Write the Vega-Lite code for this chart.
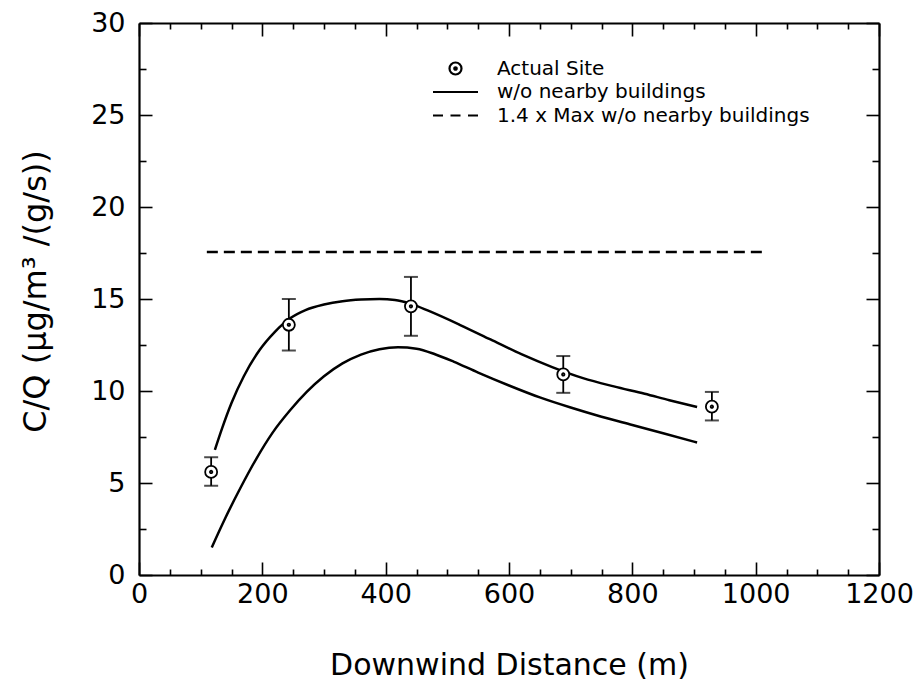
{
  "$schema": "https://vega.github.io/schema/vega-lite/v6.json",
  "width": 740,
  "height": 552,
  "autosize": {"type": "none"},
  "padding": {"left": 139, "top": 23, "right": 43, "bottom": 109},
  "background": "white",
  "config": {
    "view": {"stroke": null},
    "axis": {
      "grid": false,
      "domainColor": "black",
      "domainWidth": 2.2,
      "tickColor": "black",
      "tickWidth": 1.6,
      "labelFont": "DejaVu Sans",
      "labelFontSize": 27,
      "labelColor": "black",
      "labelFlush": false,
      "titleFont": "DejaVu Sans",
      "titleFontSize": 30,
      "titleFontWeight": "normal",
      "titleColor": "black"
    }
  },
  "datasets": {
    "curves": [
      {"curve": "lower", "x": 118, "y": 1.5},
      {"curve": "lower", "x": 140, "y": 3.1},
      {"curve": "lower", "x": 164, "y": 4.7},
      {"curve": "lower", "x": 190, "y": 6.3},
      {"curve": "lower", "x": 217, "y": 7.75},
      {"curve": "lower", "x": 245, "y": 8.95},
      {"curve": "lower", "x": 272, "y": 9.95},
      {"curve": "lower", "x": 300, "y": 10.8},
      {"curve": "lower", "x": 330, "y": 11.5},
      {"curve": "lower", "x": 360, "y": 11.98},
      {"curve": "lower", "x": 390, "y": 12.27},
      {"curve": "lower", "x": 420, "y": 12.38},
      {"curve": "lower", "x": 450, "y": 12.3},
      {"curve": "lower", "x": 480, "y": 12.0},
      {"curve": "lower", "x": 510, "y": 11.6},
      {"curve": "lower", "x": 550, "y": 11.0},
      {"curve": "lower", "x": 600, "y": 10.3},
      {"curve": "lower", "x": 650, "y": 9.65},
      {"curve": "lower", "x": 700, "y": 9.1},
      {"curve": "lower", "x": 750, "y": 8.6},
      {"curve": "lower", "x": 800, "y": 8.15},
      {"curve": "lower", "x": 850, "y": 7.7},
      {"curve": "lower", "x": 905, "y": 7.2},
      {"curve": "upper", "x": 123, "y": 6.8},
      {"curve": "upper", "x": 135, "y": 8.0},
      {"curve": "upper", "x": 150, "y": 9.35},
      {"curve": "upper", "x": 170, "y": 10.8},
      {"curve": "upper", "x": 195, "y": 12.2},
      {"curve": "upper", "x": 220, "y": 13.2},
      {"curve": "upper", "x": 245, "y": 13.95},
      {"curve": "upper", "x": 270, "y": 14.4},
      {"curve": "upper", "x": 300, "y": 14.7},
      {"curve": "upper", "x": 330, "y": 14.88},
      {"curve": "upper", "x": 360, "y": 14.97},
      {"curve": "upper", "x": 390, "y": 15.0},
      {"curve": "upper", "x": 415, "y": 14.95},
      {"curve": "upper", "x": 440, "y": 14.75},
      {"curve": "upper", "x": 470, "y": 14.35},
      {"curve": "upper", "x": 520, "y": 13.6},
      {"curve": "upper", "x": 570, "y": 12.8},
      {"curve": "upper", "x": 620, "y": 12.0},
      {"curve": "upper", "x": 670, "y": 11.3},
      {"curve": "upper", "x": 720, "y": 10.7},
      {"curve": "upper", "x": 770, "y": 10.25},
      {"curve": "upper", "x": 820, "y": 9.85},
      {"curve": "upper", "x": 860, "y": 9.5},
      {"curve": "upper", "x": 905, "y": 9.13}
    ],
    "maxline": [
      {"x": 110, "y": 17.55},
      {"x": 1018, "y": 17.55}
    ],
    "obs": [
      {"series": "Actual Site", "x": 117, "y": 5.6, "lo": 4.85, "hi": 6.4},
      {"series": "Actual Site", "x": 243, "y": 13.6, "lo": 12.2, "hi": 15.0},
      {"series": "Actual Site", "x": 441, "y": 14.6, "lo": 13.0, "hi": 16.2},
      {"series": "Actual Site", "x": 688, "y": 10.9, "lo": 9.9, "hi": 11.9},
      {"series": "Actual Site", "x": 929, "y": 9.15, "lo": 8.4, "hi": 9.95}
    ]
  },
  "layer": [
    {
      "data": {"name": "curves"},
      "mark": {"type": "line", "color": "black", "strokeWidth": 2.5, "interpolate": "monotone"},
      "encoding": {
        "x": {
          "field": "x", "type": "quantitative",
          "scale": {"domain": [0, 1200], "nice": false, "zero": false},
          "axis": {
            "orient": "bottom",
            "values": [0, 200, 400, 600, 800, 1000, 1200],
            "format": "d",
            "tickSize": -13,
            "labelPadding": 19,
            "title": "Downwind Distance (m)",
            "titlePadding": 43
          }
        },
        "y": {
          "field": "y", "type": "quantitative",
          "scale": {"domain": [0, 30], "nice": false, "zero": false},
          "axis": {
            "orient": "left",
            "values": [0, 5, 10, 15, 20, 25, 30],
            "tickSize": -13,
            "labelPadding": 27,
            "title": "C/Q  (μg/m³ /(g/s))",
            "titleFontSize": 32,
            "titleY": 268,
            "titlePadding": 38
          }
        },
        "detail": {"field": "curve"}
      }
    },
    {
      "data": {"name": "maxline"},
      "mark": {"type": "line", "color": "black", "strokeWidth": 2.5, "strokeDash": [11, 6]},
      "encoding": {
        "x": {
          "field": "x", "type": "quantitative",
          "scale": {"domain": [0, 1200], "nice": false, "zero": false},
          "axis": {
            "orient": "top",
            "values": [0, 200, 400, 600, 800, 1000, 1200],
            "tickSize": -13,
            "labels": false,
            "title": null
          }
        },
        "y": {
          "field": "y", "type": "quantitative",
          "scale": {"domain": [0, 30], "nice": false, "zero": false},
          "axis": {
            "orient": "right",
            "values": [0, 5, 10, 15, 20, 25, 30],
            "tickSize": -13,
            "labels": false,
            "title": null
          }
        }
      }
    },
    {
      "data": {"name": "obs"},
      "mark": {"type": "rule", "color": "black", "strokeWidth": 1.8},
      "encoding": {
        "x": {
          "field": "x", "type": "quantitative",
          "scale": {"domain": [0, 1200], "nice": false, "zero": false},
          "axis": {
            "orient": "bottom",
            "values": [50, 100, 150, 250, 300, 350, 450, 500, 550, 650, 700, 750, 850, 900, 950, 1050, 1100, 1150],
            "tickSize": -6,
            "labels": false,
            "domain": false,
            "title": null
          }
        },
        "y": {
          "field": "lo", "type": "quantitative",
          "scale": {"domain": [0, 30], "nice": false, "zero": false},
          "axis": {
            "orient": "left",
            "values": [2.5, 7.5, 12.5, 17.5, 22.5, 27.5],
            "tickSize": -7,
            "labels": false,
            "domain": false,
            "title": null
          }
        },
        "y2": {"field": "hi"}
      }
    },
    {
      "data": {"name": "obs"},
      "mark": {"type": "tick", "orient": "horizontal", "color": "black", "size": 14, "thickness": 2},
      "encoding": {
        "x": {
          "field": "x", "type": "quantitative",
          "scale": {"domain": [0, 1200], "nice": false, "zero": false},
          "axis": {
            "orient": "top",
            "values": [50, 100, 150, 250, 300, 350, 450, 500, 550, 650, 700, 750, 850, 900, 950, 1050, 1100, 1150],
            "tickSize": -6,
            "labels": false,
            "domain": false,
            "title": null
          }
        },
        "y": {
          "field": "lo", "type": "quantitative",
          "scale": {"domain": [0, 30], "nice": false, "zero": false},
          "axis": {
            "orient": "right",
            "values": [2.5, 7.5, 12.5, 17.5, 22.5, 27.5],
            "tickSize": -7,
            "labels": false,
            "domain": false,
            "title": null
          }
        }
      }
    },
    {
      "data": {"name": "obs"},
      "mark": {"type": "tick", "orient": "horizontal", "color": "black", "size": 14, "thickness": 2},
      "encoding": {
        "x": {"field": "x", "type": "quantitative", "scale": {"domain": [0, 1200], "nice": false, "zero": false}, "axis": null},
        "y": {"field": "hi", "type": "quantitative", "scale": {"domain": [0, 30], "nice": false, "zero": false}, "axis": null}
      }
    },
    {
      "data": {"name": "obs"},
      "mark": {"type": "point", "filled": false, "fill": "white", "color": "black", "stroke": "black", "strokeWidth": 1.8, "size": 400, "opacity": 1},
      "encoding": {
        "x": {"field": "x", "type": "quantitative", "scale": {"domain": [0, 1200], "nice": false, "zero": false}, "axis": null},
        "y": {"field": "y", "type": "quantitative", "scale": {"domain": [0, 30], "nice": false, "zero": false}, "axis": null},
        "shape": {
          "field": "series", "type": "nominal",
          "scale": {
            "domain": ["Actual Site", "w/o nearby buildings", "1.4 x Max w/o nearby buildings"],
            "range": [
              "M-0.6,0A0.6,0.6,0,1,1,0.6,0A0.6,0.6,0,1,1,-0.6,0Z M-0.12,0A0.12,0.12,0,1,1,0.12,0A0.12,0.12,0,1,1,-0.12,0Z",
              "M-2.25,0H2.25",
              "M-2.25,0H-1.25M-0.5,0H0.5M1.25,0H2.25"
            ]
          },
          "legend": {
            "orient": "none", "legendX": 305, "legendY": 34, "title": null,
            "labelFont": "DejaVu Sans", "labelFontSize": 20, "labelColor": "black", "labelLimit": 600,
            "symbolSize": 400, "symbolStrokeWidth": 2.2,
            "labelOffset": 30, "rowPadding": 1.5, "padding": 0,
            "symbolType": "circle"
          }
        }
      }
    }
  ],
  "resolve": {"axis": {"x": "independent", "y": "independent"}}
}
